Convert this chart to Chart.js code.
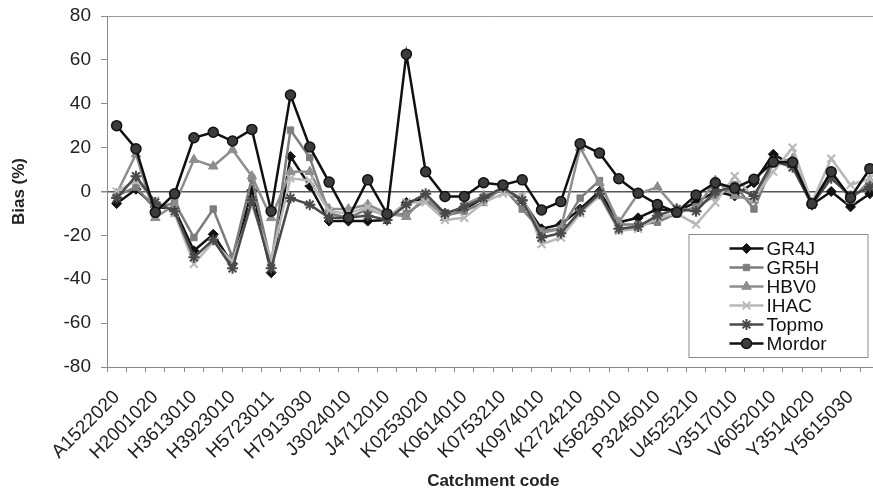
<!DOCTYPE html>
<html>
<head>
<meta charset="utf-8">
<script src="https://cdn.jsdelivr.net/npm/chart.js@4.4.1/dist/chart.umd.min.js"></script>
<style>
  html, body { margin: 0; padding: 0; overflow: hidden; background: #fff; }
  #wrap { width: 887px; height: 492px; position: relative; }
</style>
</head>
<body>
<div id="wrap"><canvas id="c"></canvas></div>
<script>
// Catchment codes shown on the axis (every second catchment is labelled)
const catchmentCodes = [
  'A1522020', 'H2001020', 'H3613010', 'H3923010', 'H5723011',
  'H7913030', 'J3024010', 'J4712010', 'K0253020', 'K0614010',
  'K0753210', 'K0974010', 'K2724210', 'K5623010', 'P3245010',
  'U4525210', 'V3517010', 'V6052010', 'Y3514020', 'Y5615030'
];

// Bias (%) per catchment for each model
const gr4j = [-5.5, 1, -7, -8, -27, -19.5, -33, 0.5, -37, 16,
  2.5, -13.5, -13.5, -13.5, -13, -5, -3, -10, -8, -3,
  1, -4, -17, -15, -8, 0, -14, -12, -8, -9,
  -5, 0, -2, 4, 17, 12, -6, 0, -7, -1];
const gr5h = [-2, 2, -8, -5, -21, -8, -30, 6, -33, 28,
  15.5, -10, -12, -8, -11, -10, -4, -11, -9, -5,
  2, -8, -18, -17, -3, 5, -15, -15, -14, -10,
  -7, -2, 3, -8, 13, 13, -6, 8, -3, 3];
const hbv0 = [-1, 17, -12, -6, 14.5, 11.5, 19, 7, -12, 9,
  9, -8, -8, -6, -10, -11.5, -2, -12, -6, -2,
  1, -3, -19, -17, 20, 4, -14, -1, 2, -8,
  -8, 5, -2, -4, 13, 15, -5, 9, -4, 5];
const ihac = [0, 5, -4, -10, -33, -23, -32, -6, -31, 6,
  5, -9, -10, -7, -12, -5, -5, -13, -12, -5,
  -1, -2, -24, -21, -10, -2, -18, -17, -12, -10,
  -15, -5, 7, -3, 9, 20, -5, 15, 3, 6];
const topmo = [-3, 7, -5, -9, -30, -22, -35, -4, -35, -3,
  -6, -12, -12, -11, -13, -6, -1, -10, -7, -3,
  2, -4, -21, -19, -9, -1, -17, -16, -11, -8,
  -9, 0, 2, -2, 14, 11, -6, 6, -2, 2];
const mordor = [30, 19.5, -9.5, -1, 24.5, 27, 23, 28.3, -9, 44,
  20.3, 4.3, -12, 5.3, -10.2, 62.6, 9, -2.3, -2.3, 4,
  3, 5.3, -8.4, -4.6, 21.8, 17.5, 5.8, -0.8, -5.9, -9.5,
  -1.6, 4, 1.5, 5.6, 13.4, 13.3, -5.6, 9, -2.8, 10.4];

const categories = gr4j.map((_, i) => (i % 2 === 0 ? catchmentCodes[i / 2] : ''));

const FONT = 'Arial, "Liberation Sans", sans-serif';

function series(label, data, line, fill, edge, style, radius, order, pbw) {
  return {
    label, data, order,
    borderColor: line, borderWidth: 2.5,
    pointStyle: style, pointRadius: radius, pointHoverRadius: radius,
    pointBackgroundColor: fill, pointBorderColor: edge, pointBorderWidth: pbw,
    tension: 0, fill: false
  };
}

const datasets = [
  series('GR4J', gr4j, '#111111', '#111111', '#111111', 'rectRot', 5, 5, 1),
  series('GR5H', gr5h, '#7d7d7d', '#7d7d7d', '#7d7d7d', 'rect', 4.5, 4, 1),
  series('HBV0', hbv0, '#8e8e8e', '#8e8e8e', '#8e8e8e', 'triangle', 5.5, 3, 1),
  series('IHAC', ihac, '#b8b8b8', '#b8b8b8', '#b8b8b8', 'crossRot', 5.5, 2, 2),
  series('Topmo', topmo, '#4a4a4a', '#4a4a4a', '#4a4a4a', 'star', 5.5, 1, 2),
  series('Mordor', mordor, '#111111', '#3c3c3c', '#111111', 'circle', 5, 0, 1.5)
];

// Framed legend drawn inside the plot, lower right
const legendBox = {
  id: 'legendBox',
  afterDraw(chart) {
    const ctx = chart.ctx;
    const a = chart.chartArea;
    const x0 = a.right - 191, y0 = a.top + 218, w = 179, h = 123;
    ctx.save();
    ctx.fillStyle = '#ffffff';
    ctx.fillRect(x0, y0, w, h);
    ctx.strokeStyle = '#8a8a8a';
    ctx.lineWidth = 1;
    ctx.strokeRect(x0 + 0.5, y0 + 0.5, w, h);
    chart.data.datasets.forEach((ds, i) => {
      const y = y0 + 14.5 + i * 19;
      const lx = x0 + 41;
      ctx.strokeStyle = ds.borderColor;
      ctx.lineWidth = ds.borderWidth;
      ctx.beginPath();
      ctx.moveTo(lx, y);
      ctx.lineTo(lx + 34, y);
      ctx.stroke();
      ctx.fillStyle = ds.pointBackgroundColor;
      ctx.strokeStyle = ds.pointBorderColor;
      ctx.lineWidth = ds.pointBorderWidth;
      Chart.helpers.drawPoint(ctx, {
        pointStyle: ds.pointStyle, radius: ds.pointRadius,
        borderWidth: ds.pointBorderWidth, rotation: 0
      }, lx + 17, y);
      ctx.fillStyle = '#111111';
      ctx.font = '19px ' + FONT;
      ctx.textBaseline = 'middle';
      ctx.textAlign = 'left';
      ctx.fillText(ds.label, lx + 37, y + 1);
    });
    ctx.restore();
  }
};

new Chart(document.getElementById('c'), {
  type: 'line',
  data: { labels: categories, datasets },
  plugins: [legendBox],
  options: {
    responsive: true,
    maintainAspectRatio: false,
    animation: false,
    layout: { padding: { top: 16, right: 3, left: 0, bottom: 0 } },
    plugins: { legend: { display: false }, tooltip: { enabled: false } },
    scales: {
      x: {
        type: 'category',
        offset: true,
        grid: {
          offset: true, drawOnChartArea: false, drawTicks: true,
          tickLength: 5, tickColor: '#8a8a8a'
        },
        border: { display: true, color: '#8a8a8a', width: 1 },
        ticks: {
          autoSkip: false, maxRotation: 45, minRotation: 45,
          color: '#222222', padding: 14,
          font: { family: FONT, size: 19 }
        },
        title: {
          display: true, text: 'Catchment code', color: '#222222',
          font: { family: FONT, size: 17, weight: 'bold' }, padding: { top: 2, bottom: 0 }
        },
        afterFit(scale) {
          scale.height = 125;
          // keep the plot reaching the right edge; rotated labels need no side room
          scale.paddingLeft = 0;
          scale.paddingRight = 0;
        }
      },
      y: {
        min: -80, max: 80,
        ticks: {
          stepSize: 20, color: '#222222', padding: 10,
          font: { family: FONT, size: 19 }
        },
        grid: {
          drawTicks: true, tickLength: 6, tickColor: '#8a8a8a',
          color: ctx => (ctx.tick && ctx.tick.value === 0 ? '#555555'
            : (ctx.tick && ctx.tick.value === 80 ? '#9a9a9a' : 'rgba(0,0,0,0)')),
          lineWidth: ctx => (ctx.tick && ctx.tick.value === 0 ? 1.5 : 1)
        },
        border: { display: true, color: '#8a8a8a', width: 1 },
        title: {
          display: true, text: 'Bias (%)', color: '#222222',
          font: { family: FONT, size: 17, weight: 'bold' }, padding: { top: 9, bottom: 0 }
        },
        afterFit(scale) {
          scale.width = 107;
          scale.paddingTop = 0;
          scale.paddingBottom = 0;
        }
      }
    }
  }
});
</script>
</body>
</html>
